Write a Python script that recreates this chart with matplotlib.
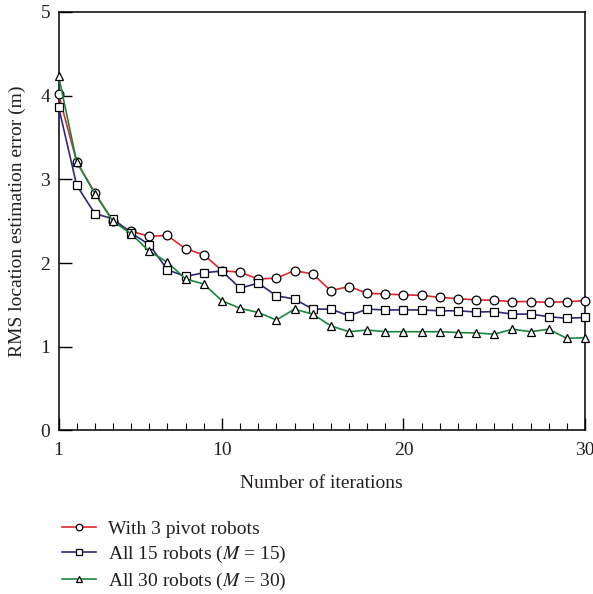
import matplotlib
matplotlib.use("Agg")
import matplotlib.pyplot as plt
from matplotlib.ticker import MultipleLocator

plt.rcParams["font.family"] = ["Liberation Serif", "DejaVu Serif"]
plt.rcParams["mathtext.fontset"] = "stix"

iterations = list(range(1, 31))

pivot_3 = [4.02, 3.21, 2.84, 2.50, 2.38, 2.32, 2.33, 2.17, 2.10, 1.91,
           1.89, 1.81, 1.82, 1.91, 1.87, 1.67, 1.72, 1.64, 1.63, 1.62,
           1.615, 1.59, 1.575, 1.56, 1.555, 1.54, 1.54, 1.53, 1.54, 1.55]
all_15 = [3.87, 2.93, 2.59, 2.53, 2.36, 2.22, 1.92, 1.84, 1.885, 1.905,
          1.70, 1.76, 1.61, 1.57, 1.45, 1.45, 1.37, 1.45, 1.44, 1.44,
          1.44, 1.43, 1.43, 1.415, 1.42, 1.39, 1.39, 1.36, 1.34, 1.35]
all_30 = [4.24, 3.21, 2.83, 2.50, 2.35, 2.14, 2.01, 1.81, 1.75, 1.55,
          1.46, 1.41, 1.32, 1.45, 1.39, 1.25, 1.18, 1.20, 1.18, 1.18,
          1.18, 1.18, 1.17, 1.165, 1.15, 1.21, 1.18, 1.21, 1.10, 1.11]

labels = ["With 3 pivot robots",
          "All 15 robots ($M$ = 15)",
          "All 30 robots ($M$ = 30)"]

text_color = "#231f20"

fig = plt.figure(figsize=(5.93, 5.94), dpi=100)
ax = fig.add_axes([0.0987, 0.2753, 0.8878, 0.7045])

series = [
    (pivot_3, "#e3262b", "o"),
    (all_15, "#2b2a7c", "s"),
    (all_30, "#17873b", "^"),
]
handles = []
for values, color, marker in series:
    (h,) = ax.plot(iterations, values, color=color, lw=1.2, marker=marker,
                   markersize=6.3, markerfacecolor="white",
                   markeredgecolor="black", markeredgewidth=0.9,
                   clip_on=False, zorder=3)
    handles.append(h)

ax.set_xlim(1, 30)
ax.set_ylim(0, 5)
ax.set_xticks([1, 10, 20, 30])
ax.xaxis.set_minor_locator(MultipleLocator(1))
ax.set_yticks([0, 1, 2, 3, 4, 5])
ax.tick_params(axis="both", which="major", direction="in", length=9,
               width=1, labelsize=14, colors="black", labelcolor=text_color,
               top=False, right=False)
ax.tick_params(axis="x", which="minor", direction="in", length=5, width=0.8,
               top=False)
ax.tick_params(axis="x", which="major", pad=8)
ax.tick_params(axis="y", which="major", pad=6)
for s in ax.spines.values():
    s.set_linewidth(1.1)

ax.set_xlabel("Number of iterations", fontsize=14, color=text_color,
              labelpad=12)
ax.set_ylabel("RMS location estimation error (m)", fontsize=14,
              color=text_color, labelpad=10)

fig.legend(handles, labels, loc="upper left", bbox_to_anchor=(0.088, 0.14),
           frameon=False, fontsize=14, handlelength=1.75, handletextpad=0.6,
           labelspacing=0.3, markerscale=0.75, labelcolor=text_color,
           borderpad=0)

fig.savefig("out.png", dpi=100)
